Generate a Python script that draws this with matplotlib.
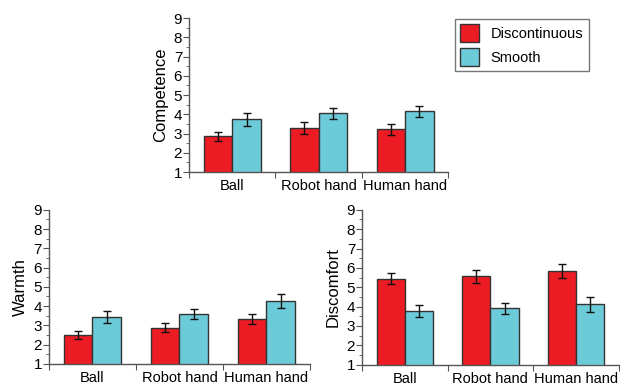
import matplotlib as mpl
mpl.use('Agg')
import matplotlib.pyplot as plt
import numpy as np

plt.rcParams['font.family'] = ['Liberation Sans', 'DejaVu Sans']

categories = ['Ball', 'Robot hand', 'Human hand']
series = ['Discontinuous', 'Smooth']
colors = ['#ED1C24', '#6CCBD8']

competence = [[2.85, 3.30, 3.22], [3.75, 4.05, 4.15]]
competence_err = [[0.25, 0.30, 0.27], [0.33, 0.30, 0.30]]
warmth = [[2.50, 2.88, 3.32], [3.43, 3.60, 4.27]]
warmth_err = [[0.20, 0.23, 0.25], [0.30, 0.27, 0.35]]
discomfort = [[5.45, 5.57, 5.83], [3.77, 3.90, 4.12]]
discomfort_err = [[0.30, 0.33, 0.37], [0.33, 0.30, 0.38]]


def drawPanel(ax, vals, errs, label):
    x = np.arange(len(categories)) + 0.5
    w = 0.33
    bars = []
    for i in range(2):
        b = ax.bar(x + (i - 0.5) * w, vals[i], w, bottom=0, color=colors[i],
                   edgecolor='#333333', linewidth=1.0, zorder=2)
        ax.errorbar(x + (i - 0.5) * w, vals[i], yerr=errs[i], fmt='none',
                    ecolor='#111111', elinewidth=1.0, capsize=3, capthick=1.0, zorder=3)
        bars.append(b)
    ax.set_xlim(0, 3)
    ax.set_ylim(1, 9)
    ax.set_yticks(range(1, 10))
    ax.set_yticks(np.arange(1.5, 9, 1), minor=True)
    ax.set_xticks([0, 1, 2, 3])
    ax.set_xticklabels([])
    ax.set_xticks(x, minor=True)
    ax.set_xticklabels(categories, minor=True, fontsize=10.5)
    ax.tick_params(axis='x', which='minor', length=0, pad=5)
    ax.tick_params(axis='x', which='major', length=4, color='#555555', direction='out')
    ax.tick_params(axis='y', which='major', length=4, labelsize=11, color='#555555', pad=1)
    ax.tick_params(axis='y', which='minor', length=2, color='#555555')
    for s in ['top', 'right']:
        ax.spines[s].set_visible(False)
    for s in ['left', 'bottom']:
        ax.spines[s].set_color('#555555')
        ax.spines[s].set_linewidth(1.0)
    ax.set_ylabel(label, fontsize=12, labelpad=4)
    return bars


fig = plt.figure(figsize=(6.2, 3.85), dpi=100)
ax1 = fig.add_axes([0.305, 0.553, 0.418, 0.4])
ax2 = fig.add_axes([0.079, 0.055, 0.421, 0.4])
ax3 = fig.add_axes([0.584, 0.053, 0.414, 0.402])

bars = drawPanel(ax1, competence, competence_err, 'Competence')
drawPanel(ax2, warmth, warmth_err, 'Warmth')
drawPanel(ax3, discomfort, discomfort_err, 'Discomfort')

leg = fig.legend(bars, series, loc='upper left', bbox_to_anchor=(0.734, 0.951),
                 fontsize=10.5, frameon=True, fancybox=False, edgecolor='#555555',
                 handlelength=1.3, handleheight=1.5, borderpad=0.35, labelspacing=0.45,
                 handletextpad=0.8, borderaxespad=0)
leg.get_frame().set_linewidth(1.0)

fig.savefig('out.png', dpi=100)
